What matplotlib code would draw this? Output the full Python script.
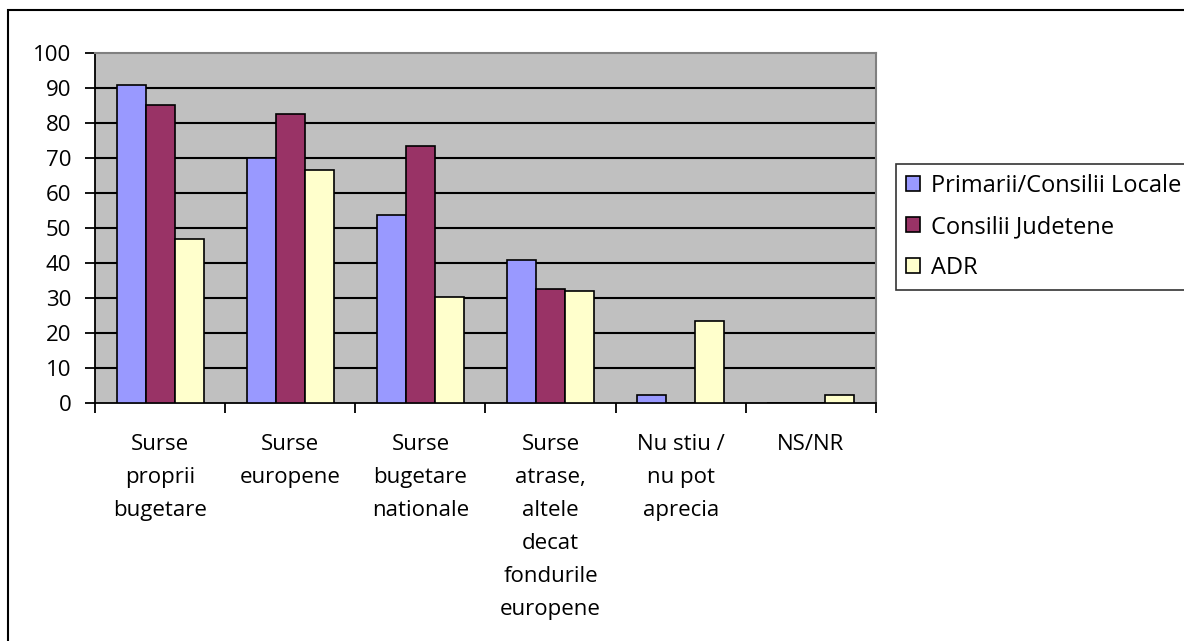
import numpy as np
import matplotlib
matplotlib.use('Agg')
from matplotlib import pyplot as plt
from matplotlib.patches import Rectangle

plt.rcParams['font.family'] = ['Open Sans', 'DejaVu Sans']

categories = ['Surse\nproprii\nbugetare', 'Surse\neuropene', 'Surse\nbugetare\nnationale',
              'Surse\natrase,\naltele\ndecat\nfondurile\neuropene', 'Nu stiu /\nnu pot\naprecia', 'NS/NR']
series_names = ['Primarii/Consilii Locale', 'Consilii Judetene', 'ADR']
primarii = [91, 70, 53.8, 40.9, 2.2, 0]
judetene = [85.2, 82.5, 73.4, 32.6, 0, 0]
adr = [47, 66.7, 30.3, 32, 23.5, 2.2]
colors = ['#9999FF', '#993366', '#FFFFCC']

fig = plt.figure(figsize=(11.84, 6.41), dpi=100)
ax = fig.add_axes([95/1184, 1-403/641, (876-95)/1184, (403-53)/641])
ax.set_facecolor('#C0C0C0')

x = np.arange(len(categories))
w = 0.223
for i, (vals, c, name) in enumerate(zip([primarii, judetene, adr], colors, series_names)):
    ax.bar(x + (i-1)*w, vals, w, color=c, edgecolor='black', linewidth=1.2, label=name, zorder=3)

ax.set_xlim(-0.5, len(categories)-0.5)
ax.set_ylim(0, 100)
ax.set_yticks(np.arange(0, 101, 10))
for yv in range(10, 100, 10):
    ax.axhline(yv, color='black', lw=1.5, zorder=1)

ax.set_xticks(x)
ax.set_xticklabels(categories, linespacing=1.76, fontsize=16)
ax.set_xticks(np.arange(-0.5, len(categories)), minor=True)
ax.tick_params(axis='x', which='major', length=0, pad=22)
ax.tick_params(axis='x', which='minor', length=7, width=1.3, direction='out')
ax.tick_params(axis='y', length=7, width=1.3, direction='out', labelsize=16, pad=10)

for s in ['top', 'right']:
    ax.spines[s].set_color('#808080')
    ax.spines[s].set_linewidth(1.5)
for s in ['left', 'bottom']:
    ax.spines[s].set_color('black')
    ax.spines[s].set_linewidth(1.3)

leg = ax.legend(loc='upper left', bbox_to_anchor=(896/1184, 1-164/641), bbox_transform=fig.transFigure,
                frameon=True, fancybox=False, edgecolor='black', fontsize=17,
                handlelength=0.6, handleheight=0.6, handletextpad=0.45, labelspacing=0.72,
                borderpad=0.42, borderaxespad=0)
leg.get_frame().set_linewidth(1.2)
for h in leg.legend_handles:
    h.set_linewidth(1.2)

# outer chart border
fig.patches.append(Rectangle((8/1184, -0.05), 1.1, 1-10/641+0.05, transform=fig.transFigure,
                             fill=False, edgecolor='black', lw=1.5, zorder=0))

fig.savefig('out.png', dpi=100)
